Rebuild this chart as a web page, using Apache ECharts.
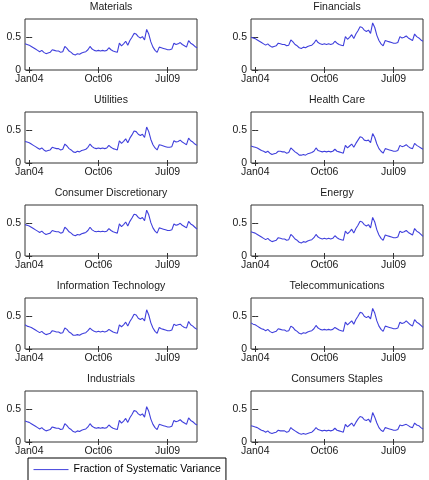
<!DOCTYPE html>
<html>
<head>
<meta charset="utf-8">
<script src="https://cdn.jsdelivr.net/npm/echarts@6/dist/echarts.min.js"></script>
<style>
  html, body { margin: 0; background: #fff; }
  #chart { width: 429px; height: 480px; }
</style>
</head>
<body>
<div id="chart"></div>
<script>
// monthly points, month 0 = Jan 2004 (first point is Nov 2003)
const firstMonth = -2;
const tickMonths = [0, 33, 66];
const tickLabels = ["Jan04", "Oct06", "Jul09"];
const yTicks = [0, 0.5];
const seriesName = "Fraction of Systematic Variance";

const materials = [
  0.40, 0.39, 0.38, 0.36, 0.34, 0.32, 0.30, 0.28, 0.30, 0.27,
  0.25, 0.26, 0.27, 0.31, 0.30, 0.29, 0.29, 0.27, 0.28, 0.36,
  0.33, 0.29, 0.27, 0.24, 0.23, 0.25, 0.24, 0.26, 0.27, 0.28,
  0.31, 0.36, 0.32, 0.30, 0.29, 0.30, 0.29, 0.30, 0.29, 0.30,
  0.34, 0.31, 0.29, 0.28, 0.27, 0.41, 0.37, 0.40, 0.44, 0.38,
  0.45, 0.50, 0.56, 0.55, 0.51, 0.49, 0.51, 0.46, 0.62, 0.55,
  0.43, 0.35, 0.30, 0.27, 0.35, 0.34, 0.33, 0.32, 0.31, 0.31,
  0.32, 0.41, 0.39, 0.40, 0.42, 0.39, 0.37, 0.35, 0.45, 0.41,
  0.39, 0.36, 0.34
];
const financials = [
  0.50, 0.49, 0.48, 0.46, 0.44, 0.42, 0.40, 0.38, 0.40, 0.37,
  0.35, 0.36, 0.37, 0.41, 0.40, 0.39, 0.39, 0.37, 0.38, 0.46,
  0.43, 0.39, 0.37, 0.34, 0.33, 0.35, 0.34, 0.36, 0.37, 0.38,
  0.41, 0.46, 0.42, 0.40, 0.39, 0.40, 0.39, 0.40, 0.39, 0.40,
  0.44, 0.41, 0.39, 0.38, 0.37, 0.51, 0.47, 0.50, 0.54, 0.48,
  0.55, 0.60, 0.66, 0.65, 0.61, 0.59, 0.61, 0.56, 0.72, 0.65,
  0.53, 0.45, 0.40, 0.37, 0.45, 0.44, 0.43, 0.42, 0.41, 0.41,
  0.42, 0.51, 0.49, 0.50, 0.52, 0.49, 0.47, 0.45, 0.55, 0.51,
  0.49, 0.46, 0.44
];
const utilities = [
  0.33, 0.32, 0.31, 0.29, 0.27, 0.25, 0.23, 0.21, 0.23, 0.20,
  0.18, 0.19, 0.20, 0.24, 0.23, 0.22, 0.22, 0.20, 0.21, 0.29,
  0.26, 0.22, 0.20, 0.17, 0.16, 0.18, 0.17, 0.19, 0.20, 0.21,
  0.24, 0.29, 0.25, 0.23, 0.22, 0.23, 0.22, 0.23, 0.22, 0.23,
  0.27, 0.24, 0.22, 0.21, 0.20, 0.34, 0.30, 0.33, 0.37, 0.31,
  0.38, 0.43, 0.49, 0.48, 0.44, 0.42, 0.44, 0.39, 0.55, 0.48,
  0.36, 0.28, 0.23, 0.20, 0.28, 0.27, 0.26, 0.25, 0.24, 0.24,
  0.25, 0.34, 0.32, 0.33, 0.35, 0.32, 0.30, 0.28, 0.38, 0.34,
  0.32, 0.29, 0.27
];
const healthCare = [
  0.26, 0.25, 0.24, 0.23, 0.21, 0.19, 0.18, 0.16, 0.18, 0.15,
  0.13, 0.14, 0.15, 0.18, 0.18, 0.17, 0.17, 0.15, 0.16, 0.23,
  0.20, 0.17, 0.15, 0.12, 0.12, 0.13, 0.12, 0.14, 0.15, 0.16,
  0.18, 0.23, 0.19, 0.18, 0.17, 0.18, 0.17, 0.18, 0.17, 0.18,
  0.21, 0.18, 0.17, 0.16, 0.15, 0.27, 0.23, 0.26, 0.29, 0.24,
  0.30, 0.35, 0.40, 0.39, 0.35, 0.34, 0.35, 0.31, 0.45, 0.39,
  0.29, 0.22, 0.18, 0.15, 0.22, 0.21, 0.20, 0.19, 0.18, 0.18,
  0.19, 0.27, 0.25, 0.26, 0.28, 0.25, 0.23, 0.22, 0.30, 0.27,
  0.25, 0.23, 0.21
];
const consumerDiscretionary = [
  0.48, 0.47, 0.46, 0.44, 0.42, 0.40, 0.38, 0.36, 0.38, 0.35,
  0.33, 0.34, 0.35, 0.39, 0.38, 0.37, 0.37, 0.35, 0.36, 0.44,
  0.41, 0.37, 0.35, 0.32, 0.31, 0.33, 0.32, 0.34, 0.35, 0.36,
  0.39, 0.44, 0.40, 0.38, 0.37, 0.38, 0.37, 0.38, 0.37, 0.38,
  0.42, 0.39, 0.37, 0.36, 0.35, 0.49, 0.45, 0.48, 0.52, 0.46,
  0.53, 0.58, 0.64, 0.63, 0.59, 0.57, 0.59, 0.54, 0.70, 0.63,
  0.51, 0.43, 0.38, 0.35, 0.43, 0.42, 0.41, 0.40, 0.39, 0.39,
  0.40, 0.49, 0.47, 0.48, 0.50, 0.47, 0.45, 0.43, 0.53, 0.49,
  0.47, 0.44, 0.41
];
const energy = [
  0.37, 0.36, 0.35, 0.33, 0.31, 0.29, 0.27, 0.25, 0.27, 0.24,
  0.22, 0.23, 0.24, 0.28, 0.27, 0.26, 0.26, 0.24, 0.25, 0.33,
  0.30, 0.26, 0.24, 0.21, 0.20, 0.22, 0.21, 0.23, 0.24, 0.25,
  0.28, 0.33, 0.29, 0.27, 0.26, 0.27, 0.26, 0.27, 0.26, 0.27,
  0.31, 0.28, 0.26, 0.25, 0.24, 0.38, 0.34, 0.37, 0.41, 0.35,
  0.42, 0.47, 0.53, 0.52, 0.48, 0.46, 0.48, 0.43, 0.59, 0.52,
  0.40, 0.32, 0.27, 0.24, 0.32, 0.31, 0.30, 0.29, 0.28, 0.28,
  0.29, 0.38, 0.36, 0.37, 0.39, 0.36, 0.34, 0.32, 0.42, 0.38,
  0.36, 0.33, 0.30
];
const informationTechnology = [
  0.37, 0.35, 0.34, 0.33, 0.31, 0.29, 0.27, 0.25, 0.27, 0.24,
  0.22, 0.23, 0.24, 0.28, 0.27, 0.26, 0.26, 0.24, 0.25, 0.32,
  0.30, 0.26, 0.24, 0.21, 0.21, 0.22, 0.21, 0.23, 0.24, 0.25,
  0.28, 0.32, 0.29, 0.27, 0.26, 0.27, 0.26, 0.27, 0.26, 0.27,
  0.30, 0.28, 0.26, 0.25, 0.24, 0.37, 0.34, 0.37, 0.41, 0.35,
  0.42, 0.47, 0.53, 0.52, 0.47, 0.45, 0.47, 0.43, 0.60, 0.52,
  0.40, 0.32, 0.27, 0.24, 0.33, 0.31, 0.30, 0.29, 0.28, 0.28,
  0.29, 0.38, 0.36, 0.37, 0.38, 0.35, 0.33, 0.32, 0.42, 0.37,
  0.35, 0.32, 0.30
];
const telecommunications = [
  0.40, 0.38, 0.37, 0.35, 0.33, 0.31, 0.30, 0.28, 0.30, 0.27,
  0.25, 0.26, 0.27, 0.31, 0.30, 0.29, 0.29, 0.27, 0.28, 0.35,
  0.33, 0.29, 0.27, 0.24, 0.23, 0.25, 0.24, 0.26, 0.27, 0.28,
  0.31, 0.36, 0.32, 0.30, 0.29, 0.30, 0.29, 0.30, 0.29, 0.30,
  0.33, 0.31, 0.29, 0.28, 0.27, 0.41, 0.37, 0.40, 0.43, 0.38,
  0.45, 0.50, 0.56, 0.55, 0.50, 0.48, 0.50, 0.46, 0.62, 0.55,
  0.43, 0.35, 0.30, 0.27, 0.35, 0.34, 0.33, 0.32, 0.31, 0.31,
  0.32, 0.41, 0.39, 0.40, 0.43, 0.40, 0.37, 0.35, 0.45, 0.41,
  0.39, 0.36, 0.33
];
const industrials = [
  0.32, 0.31, 0.30, 0.28, 0.26, 0.24, 0.22, 0.20, 0.22, 0.19,
  0.17, 0.18, 0.19, 0.23, 0.22, 0.21, 0.21, 0.19, 0.20, 0.28,
  0.25, 0.21, 0.19, 0.16, 0.15, 0.17, 0.16, 0.18, 0.19, 0.20,
  0.23, 0.28, 0.24, 0.22, 0.21, 0.22, 0.21, 0.22, 0.21, 0.22,
  0.26, 0.23, 0.21, 0.20, 0.19, 0.33, 0.29, 0.32, 0.36, 0.30,
  0.37, 0.42, 0.48, 0.47, 0.43, 0.41, 0.43, 0.38, 0.54, 0.47,
  0.35, 0.27, 0.22, 0.19, 0.27, 0.26, 0.25, 0.24, 0.23, 0.23,
  0.24, 0.33, 0.31, 0.32, 0.34, 0.31, 0.29, 0.27, 0.37, 0.33,
  0.31, 0.28, 0.26
];
const consumerStaples = [
  0.25, 0.24, 0.23, 0.22, 0.20, 0.18, 0.17, 0.15, 0.17, 0.14,
  0.13, 0.14, 0.15, 0.18, 0.17, 0.17, 0.17, 0.15, 0.16, 0.22,
  0.19, 0.17, 0.15, 0.13, 0.12, 0.13, 0.12, 0.13, 0.14, 0.15,
  0.18, 0.22, 0.19, 0.18, 0.17, 0.18, 0.17, 0.18, 0.17, 0.18,
  0.21, 0.18, 0.17, 0.16, 0.15, 0.27, 0.23, 0.26, 0.29, 0.24,
  0.30, 0.35, 0.39, 0.38, 0.34, 0.33, 0.35, 0.30, 0.45, 0.38,
  0.29, 0.22, 0.18, 0.16, 0.22, 0.21, 0.20, 0.19, 0.18, 0.18,
  0.19, 0.26, 0.25, 0.26, 0.27, 0.25, 0.23, 0.22, 0.29, 0.26,
  0.25, 0.22, 0.20
];

const panels = [
  { title: "Materials", values: materials },
  { title: "Financials", values: financials },
  { title: "Utilities", values: utilities },
  { title: "Health Care", values: healthCare },
  { title: "Consumer Discretionary", values: consumerDiscretionary },
  { title: "Energy", values: energy },
  { title: "Information Technology", values: informationTechnology },
  { title: "Telecommunications", values: telecommunications },
  { title: "Industrials", values: industrials },
  { title: "Consumers Staples", values: consumerStaples }
];

const FONT = "Arial, 'Liberation Sans', Helvetica, sans-serif";
const FONT_SIZE = 10.5;
const TEXT_COLOR = "#1a1a1a";
const AXIS_COLOR = "#333";
const LINE_COLOR = "#4040dc";

const X_MIN = -2;
const X_MAX = 80;

function panelGrid(index) {
  const col = index % 2;
  const row = Math.floor(index / 2);
  return {
    left: col === 0 ? 25 : 251,
    top: 19 + 93 * row,
    width: 172,
    height: 51,
    show: true,
    borderColor: AXIS_COLOR,
    borderWidth: 1,
    backgroundColor: "#fff"
  };
}

function bottomAxis(index) {
  return {
    gridIndex: index,
    type: "value",
    min: X_MIN,
    max: X_MAX,
    axisLine: { show: false },
    axisTick: { inside: true, length: 3, customValues: tickMonths, lineStyle: { color: AXIS_COLOR } },
    axisLabel: {
      customValues: tickMonths,
      formatter: (value) => tickLabels[tickMonths.indexOf(value)] ?? "",
      margin: 4,
      fontSize: FONT_SIZE,
      fontFamily: FONT,
      color: TEXT_COLOR
    },
    splitLine: { show: false }
  };
}

function topAxis(index, title) {
  return {
    gridIndex: index,
    type: "value",
    position: "top",
    min: X_MIN,
    max: X_MAX,
    name: title,
    nameLocation: "middle",
    nameGap: 6,
    nameTextStyle: { fontSize: FONT_SIZE, fontFamily: FONT, color: TEXT_COLOR },
    axisLine: { show: false },
    axisTick: { inside: true, length: 3, customValues: tickMonths, lineStyle: { color: AXIS_COLOR } },
    axisLabel: { show: false },
    splitLine: { show: false }
  };
}

function leftAxis(index) {
  return {
    gridIndex: index,
    type: "value",
    min: 0,
    max: 0.78,
    axisLine: { show: false },
    axisTick: { inside: true, length: 3, customValues: yTicks, lineStyle: { color: AXIS_COLOR } },
    axisLabel: {
      customValues: yTicks,
      margin: 4,
      fontSize: FONT_SIZE,
      fontFamily: FONT,
      color: TEXT_COLOR
    },
    splitLine: { show: false }
  };
}

function rightAxis(index) {
  return {
    gridIndex: index,
    type: "value",
    position: "right",
    min: 0,
    max: 0.78,
    axisLine: { show: false },
    axisTick: { inside: true, length: 3, customValues: yTicks, lineStyle: { color: AXIS_COLOR } },
    axisLabel: { show: false },
    splitLine: { show: false }
  };
}

const option = {
  animation: false,
  grid: panels.map((_, i) => panelGrid(i)),
  xAxis: panels.flatMap((p, i) => [bottomAxis(i), topAxis(i, p.title)]),
  yAxis: panels.flatMap((_, i) => [leftAxis(i), rightAxis(i)]),
  legend: {
    data: [seriesName],
    left: 28,
    top: 458,
    padding: [6, 5, 8, 5],
    borderColor: "#000",
    borderWidth: 1,
    backgroundColor: "#fff",
    itemWidth: 35,
    itemHeight: 14,
    itemGap: 0,
    itemStyle: { opacity: 0 },
    lineStyle: { color: LINE_COLOR, width: 1 },
    selectedMode: false,
    textStyle: { fontSize: FONT_SIZE, fontFamily: FONT, color: "#000" }
  },
  series: panels.map((p, i) => ({
    type: "line",
    name: seriesName,
    xAxisIndex: 2 * i,
    yAxisIndex: 2 * i,
    symbol: "none",
    showSymbol: false,
    data: p.values.map((v, k) => [firstMonth + k, v]),
    lineStyle: { color: LINE_COLOR, width: 1.1 },
    itemStyle: { color: LINE_COLOR }
  }))
};

const chart = echarts.init(document.getElementById("chart"), null, { renderer: "canvas" });
chart.setOption(option);
</script>
</body>
</html>
